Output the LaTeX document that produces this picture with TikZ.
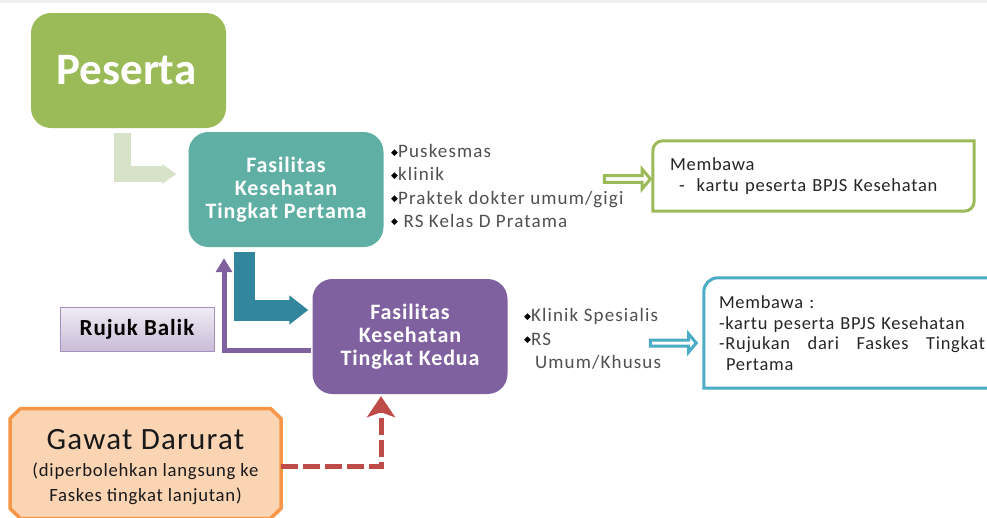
\documentclass[tikz,border=0pt]{standalone}
\usepackage{fontspec}
\setmainfont{Carlito}
\newfontfamily\lst[LetterSpace=6]{Carlito}
\newfontfamily\bodyf[LetterSpace=4]{Carlito}
\newfontfamily\symf{DejaVu Sans}
\usetikzlibrary{arrows.meta,shapes.arrows,calc}
\definecolor{cgreen}{HTML}{9BBB59}
\definecolor{cteal}{HTML}{5FAFA5}
\definecolor{cpurple}{HTML}{8061A0}
\definecolor{cblue}{HTML}{4BACC6}
\definecolor{cdteal}{HTML}{31859C}
\definecolor{clgreen}{HTML}{D7E3C8}
\definecolor{cred}{HTML}{BE4B48}
\definecolor{corange}{HTML}{F79646}
\definecolor{cpeach}{HTML}{FBD4B4}
\definecolor{clist}{HTML}{505050}
\newcommand{\bul}{\raisebox{2.5pt}{\color{black}\symf\fontsize{9}{9}\selectfont ◆}}
\tikzset{
  mainbox/.style={rounded corners=20pt,inner sep=0pt,minimum width=195pt,minimum height=115pt,align=center,text=white},
  listtxt/.style={align=left,inner sep=0pt,text=clist,anchor=west,font=\lst\fontsize{19}{23.3}\selectfont},
  notebox/.style={inner sep=0pt,align=left,anchor=center,text=black!85},
  hollow/.style={single arrow,draw=#1,fill=white,line width=3pt,inner sep=0pt,single arrow head extend=3pt,single arrow tip angle=100},
}
\begin{document}
\begin{tikzpicture}[x=1pt,y=-1pt]
\useasboundingbox (0,0) rectangle (987,517);
\clip (0,0) rectangle (987,517);
\fill[white] (0,0) rectangle (987,517);
\fill[black!6] (0,0) rectangle (987,3);

\node[mainbox,fill=cgreen] (peserta) at (128.5,70.5) {\bfseries\fontsize{45}{47}\selectfont\hspace*{-4pt}Peserta};
\node[mainbox,fill=cteal,font=\bfseries\bodyf\fontsize{22}{23.3}\selectfont] (fktp) at (286,189.5) {Fasilitas\\Kesehatan\\Tingkat Pertama};
\node[mainbox,fill=cpurple,font=\bfseries\bodyf\fontsize{22}{23.3}\selectfont] (fktk) at (410,336.5) {Fasilitas\\Kesehatan\\Tingkat Kedua};
\node[inner sep=0pt,minimum width=154pt,minimum height=44pt,top color=cpurple!12,bottom color=cpurple!42,draw=cpurple!70,line width=1pt] (rujuk) at (137,329) {\bfseries\bodyf\fontsize{23}{25}\selectfont Rujuk Balik};

\coordinate (gc) at (145.5,462.5);
\draw[corange,fill=cpeach,line width=3.5pt,line join=round]
  ($(gc)+(-135.5,-44)$) -- ($(gc)+(-125,-54)$) -- ($(gc)+(125,-54)$) -- ($(gc)+(135.5,-44)$) --
  ($(gc)+(135.5,46)$) -- ($(gc)+(125,56)$) -- ($(gc)+(-125,56)$) -- ($(gc)+(-135.5,46)$) -- cycle;
\node[inner sep=0pt,minimum width=271pt,minimum height=108pt,align=center,text=black!90,font=\bodyf\fontsize{18.7}{25}\selectfont] (gawat) at ($(gc)+(0,5)$)
 {\fontsize{31}{33}\selectfont Gawat Darurat\\[2pt]\fontsize{18.7}{25}\selectfont (diperbolehkan langsung ke\\Faskes tingkat lanjutan)};

% connectors
\coordinate (p1) at ($(peserta.south)+(-6,5)$);
\coordinate (p2) at ($(fktp.west)+(-12,-15.5)$);
\draw[clgreen,line width=16.5pt,-{Triangle[length=14pt,width=19pt]}] (p1) |- (p2);

\coordinate (r1) at ($(fktk.west)+(-1,14)$);
\coordinate (r2) at ($(fktp.south)+(-62,11)$);
\draw[cpurple,line width=5pt,-{Triangle[length=14pt,width=16pt]}] (r1) -| (r2);

\coordinate (t1) at ($(fktp.south)+(-41.5,5)$);
\coordinate (t2) at ($(fktk.west)+(-4,-26.5)$);
\draw[cdteal,line width=21pt,-{Triangle[length=19pt,width=28pt]}] (t1) |- (t2);

\coordinate (d1) at ($(gc)+(135.5,4)$);
\coordinate (d2) at ($(fktk.south)+(-29,2)$);
\draw[cred,line width=5pt,dash pattern=on 17pt off 5pt,-{Stealth[length=21pt,width=28pt,inset=5pt]}] (d1) -| (d2);

% lists
\node[listtxt] (list1) at (391,186) {\bul Puskesmas\\\bul klinik\\\bul Praktek dokter umum/gigi\\\bul\ RS Kelas D Pratama};
\node[listtxt] (list2) at (524,339) {\bul Klinik Spesialis\\\bul RS\\\ \ Umum/Khusus};

% hollow arrows
\node[hollow=cgreen,minimum height=46pt,minimum width=20pt] (ha1) at (626,179) {};
\node[hollow=cblue,minimum height=46pt,minimum width=18pt] (ha2) at (672,343) {};

% note boxes
\node[notebox,minimum width=321pt,minimum height=70pt,text width=287pt,font=\bodyf\fontsize{18.5}{21}\selectfont] (m1) at (813.5,176)
 {Membawa\\\hspace*{9pt}-\hspace*{12pt}kartu peserta BPJS Kesehatan};
\draw[cgreen,line width=3pt] (m1.west) {[rounded corners=10pt] -- (m1.north west) -- (m1.north)} -- (m1.north east) -- (m1.east) {[rounded corners=10pt] -- (m1.south east) -- (m1.south)} -- (m1.south west) -- cycle;

\node[notebox,minimum width=296pt,minimum height=110pt,text width=266pt,font=\bodyf\fontsize{18.4}{20.5}\selectfont] (m2) at (852,333)
 {Membawa :\\-kartu peserta BPJS Kesehatan\\\makebox[266pt][s]{-Rujukan\hfill dari\hfill Faskes\hfill Tingkat}\\\hspace*{7pt}Pertama};
\draw[cblue,line width=3pt] (m2.west) {[rounded corners=14pt] -- (m2.north west) -- (m2.north)} -- (m2.north east) -- (m2.south east) -- (m2.south west) -- cycle;
\end{tikzpicture}
\end{document}
